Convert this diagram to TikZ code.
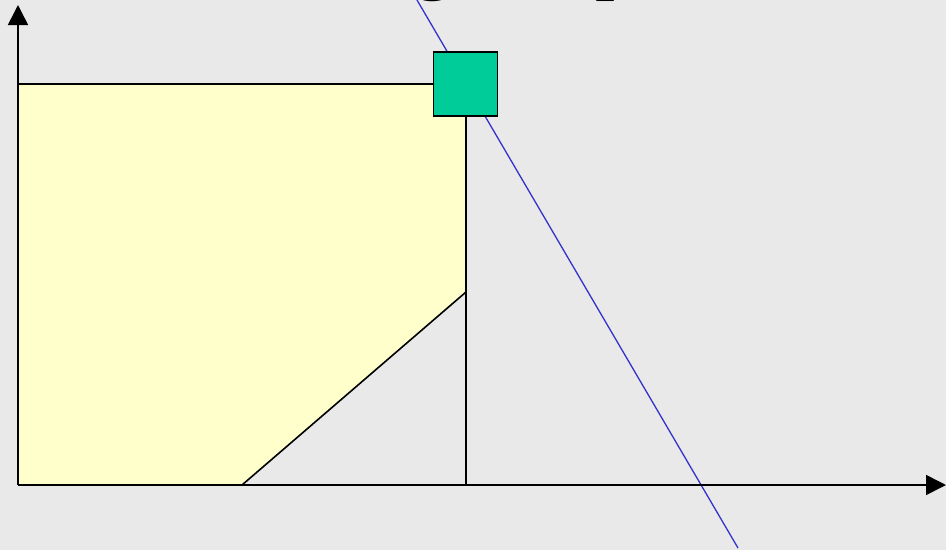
\documentclass[tikz,border=0pt]{standalone}
\usepackage{fontspec}
\setmainfont{Liberation Serif}
\usetikzlibrary{arrows.meta}
\definecolor{bggray}{HTML}{E9E9E9}
\definecolor{feasyellow}{HTML}{FFFFCC}
\definecolor{optgreen}{HTML}{00CC99}
\definecolor{cutblue}{HTML}{3333CC}
\tikzset{
  axis/.style={line width=1.6pt, -{Triangle[width=20pt,length=20pt]}},
  edge/.style={line width=1.6pt},
  optbox/.style={draw, line width=1.8pt, fill=optgreen, minimum size=64pt, inner sep=0pt},
}

\begin{document}
\begin{tikzpicture}[x=1pt,y=-1pt]
    \fill[bggray] (0,0) rectangle (946,550);
    \useasboundingbox (0,0) rectangle (946,550);

    \coordinate (O) at (18,485);
    \coordinate (Ytop) at (18,5);
    \coordinate (Xend) at (946,485);
    \coordinate (A) at (18,84);
    \coordinate (B) at (466,84);
    \coordinate (C) at (466,292);
    \coordinate (D) at (242,485);
    \coordinate (E) at (466,485);
    \coordinate (P) at (417,0);
    \coordinate (Q) at (738,548);

    % feasible region
    \fill[feasyellow] (A) -- (B) -- (C) -- (D) -- (O) -- cycle;
    \draw[edge] (A) -- (B);
    \draw[edge] (B) -- (E);
    \draw[edge] (C) -- (D);

    % cutting line
    \draw[cutblue, line width=1.3pt] (P) -- (Q);

    \node[optbox] (opt) at (465.5,84) {};

    \draw[axis] (O) -- (Ytop);
    \draw[axis] (O) -- (Xend);

    % title, cut off at the top
    \begin{scope}
        \clip (0,0) rectangle (946,550);
        \node[anchor=base west, inner sep=0pt, font=\fontsize{80}{90}\selectfont] (tg) at (413,-16) {g};
        \node[anchor=base west, inner sep=0pt, font=\fontsize{80}{90}\selectfont] (tp) at (595,-16) {p};
    \end{scope}
\end{tikzpicture}
\end{document}
